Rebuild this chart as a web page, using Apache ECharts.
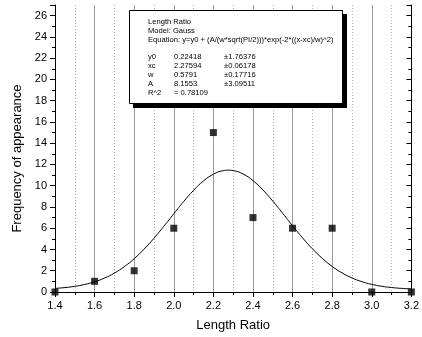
<!DOCTYPE html>
<html>
<head>
<meta charset="utf-8">
<script src="https://cdn.jsdelivr.net/npm/echarts@6/dist/echarts.min.js"></script>
<style>html,body{margin:0;padding:0;background:#fff}#c{width:422px;height:337px}</style>
</head>
<body>
<div id="c"></div>
<script>
// measured points
const pointX = [1.4, 1.6, 1.8, 2.0, 2.2, 2.4, 2.6, 2.8, 3.0, 3.2];
const pointY = [0, 1, 2, 6, 15, 7, 6, 6, 0, 0];
// fitted Gauss curve (read values)
const curveX = [1.40,1.45,1.50,1.55,1.60,1.65,1.70,1.75,1.80,1.85,1.90,1.95,2.00,2.05,2.10,2.15,2.20,2.25,2.276,2.30,2.35,2.40,2.45,2.50,2.55,2.60,2.65,2.70,2.75,2.80,2.85,2.90,2.95,3.00,3.05,3.10,3.15,3.20];
const curveY = [0.340,0.416,0.534,0.709,0.961,1.310,1.778,2.383,3.135,4.032,5.061,6.187,7.359,8.511,9.566,10.446,11.080,11.415,11.460,11.421,11.098,10.475,9.603,8.553,7.403,6.230,5.101,4.069,3.165,2.408,1.798,1.325,0.972,0.717,0.539,0.420,0.342,0.293];
// annotation text
const boxTitle = ['Length Ratio', 'Model: Gauss', 'Equation: y=y0 + (A/(w*sqrt(PI/2)))*exp(-2*((x-xc)/w)^2)'];
const paramNames = ['y0', 'xc', 'w', 'A', 'R^2'];
const paramValues = ['0.22418', '2.27594', '0.5791', '8.1553', '= 0.78109'];
const paramErrors = ['\u00b11.76376', '\u00b10.06178', '\u00b10.17716', '\u00b13.09511', ''];

const FONT = '"Liberation Sans", Arial, sans-serif';
const chart = echarts.init(document.getElementById('c'), null, {renderer: 'canvas'});

const graphics = [];
graphics.push({type: 'rect', shape: {x: 133, y: 14, width: 214, height: 94}, style: {fill: '#000'}, z: 100});
graphics.push({type: 'rect', shape: {x: 129.5, y: 10.5, width: 213, height: 93}, style: {fill: '#fff', stroke: '#000', lineWidth: 1}, z: 101});
boxTitle.forEach((t, i) => graphics.push({type: 'text', x: 148, y: 22 + i * 9, style: {text: t, font: '7.6px ' + FONT, fill: '#000', verticalAlign: 'middle'}, z: 102}));
paramNames.forEach((t, i) => {
  const y = 57 + i * 9;
  graphics.push({type: 'text', x: 148, y: y, style: {text: t, font: '7.6px ' + FONT, fill: '#000', verticalAlign: 'middle'}, z: 102});
  graphics.push({type: 'text', x: 174, y: y, style: {text: paramValues[i], font: '7.6px ' + FONT, fill: '#000', verticalAlign: 'middle'}, z: 102});
  graphics.push({type: 'text', x: 224, y: y, style: {text: paramErrors[i], font: '7.6px ' + FONT, fill: '#000', verticalAlign: 'middle'}, z: 102});
});

const axisLineStyle = {color: '#000', width: 1};
chart.setOption({
  animation: false,
  backgroundColor: '#fff',
  grid: {left: 55, right: 6, top: 5, bottom: 45, containLabel: false},
  xAxis: [{
    type: 'value', position: 'bottom', min: 1.4, max: 3.2, interval: 0.2,
    name: 'Length Ratio', nameLocation: 'middle', nameGap: 27,
    nameTextStyle: {fontFamily: FONT, fontSize: 13, color: '#000'},
    axisLine: {show: true, onZero: false, lineStyle: axisLineStyle},
    axisTick: {show: true, inside: false, length: 5, lineStyle: {color: '#000'}},
    minorTick: {show: true, splitNumber: 2, length: 3, lineStyle: {color: '#000'}},
    axisLabel: {fontFamily: FONT, fontSize: 11, color: '#000', margin: 8, formatter: v => v.toFixed(1)},
    splitLine: {show: true, lineStyle: {color: '#999', width: 1}},
    minorSplitLine: {show: true, lineStyle: {color: '#aaa', width: 1, type: [1, 2]}}
  }, {
    type: 'value', position: 'top', min: 1.4, max: 3.2, interval: 0.2,
    axisLine: {show: true, lineStyle: axisLineStyle},
    axisTick: {show: true, inside: true, length: 5, lineStyle: {color: '#000'}},
    minorTick: {show: true, splitNumber: 2, length: 3, lineStyle: {color: '#000'}},
    axisLabel: {show: false}, splitLine: {show: false}
  }],
  yAxis: [{
    type: 'value', position: 'left', min: 0, max: 27, interval: 2,
    name: 'Frequency of appearance', nameLocation: 'middle', nameGap: 30,
    nameTextStyle: {fontFamily: FONT, fontSize: 13, color: '#000', padding: [0, 20, 0, 0]},
    axisLine: {show: true, onZero: false, lineStyle: axisLineStyle},
    axisTick: {show: true, inside: false, length: 5, lineStyle: {color: '#000'}},
    minorTick: {show: true, splitNumber: 2, length: 3, lineStyle: {color: '#000'}},
    axisLabel: {fontFamily: FONT, fontSize: 11, color: '#000', margin: 8, showMaxLabel: false},
    splitLine: {show: false}
  }, {
    type: 'value', position: 'right', min: 0, max: 27, interval: 2,
    axisLine: {show: true, onZero: false, lineStyle: axisLineStyle},
    axisTick: {show: true, inside: true, length: 5, lineStyle: {color: '#000'}},
    minorTick: {show: true, splitNumber: 2, length: 3, lineStyle: {color: '#000'}},
    axisLabel: {show: false}, splitLine: {show: false}
  }],
  series: [{
    type: 'line', xAxisIndex: 0, yAxisIndex: 0, smooth: true, showSymbol: false, symbol: 'none',
    data: curveX.map((x, i) => [x, curveY[i]]),
    lineStyle: {color: '#000', width: 1}, z: 3
  }, {
    type: 'scatter', xAxisIndex: 0, yAxisIndex: 0, symbol: 'rect', symbolSize: 7,
    data: pointX.map((x, i) => [x, pointY[i]]),
    itemStyle: {color: '#000'}, z: 4, clip: false
  }],
  graphic: graphics
});
</script>
</body>
</html>
